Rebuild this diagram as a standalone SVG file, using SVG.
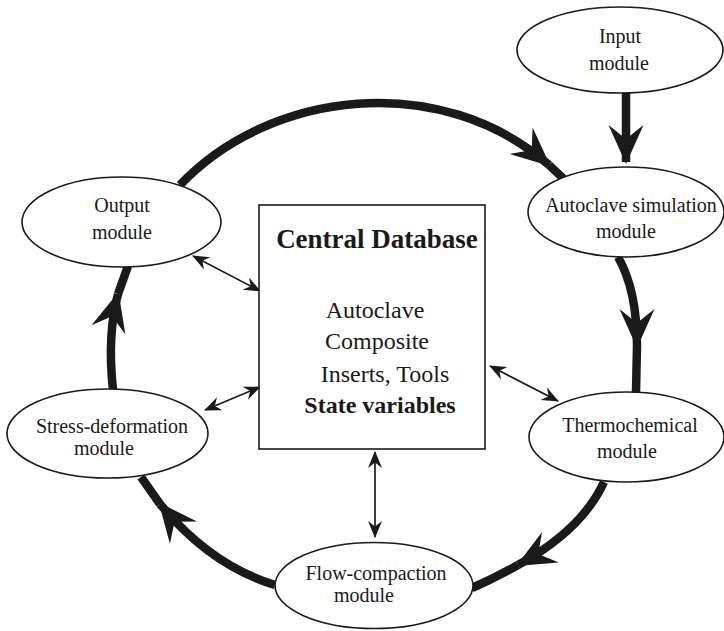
<svg xmlns="http://www.w3.org/2000/svg" width="724" height="631" viewBox="0 0 724 631">
<defs>
<style>
.node ellipse{fill:#fff;stroke:#1a1a1a;stroke-width:1.6}
.box{fill:#fff;stroke:#1a1a1a;stroke-width:1.6}
text{font-family:"Liberation Serif","Times New Roman",serif;fill:#1a1a1a;text-anchor:middle}
.lbl{font-size:20px}
.db{font-size:24px}
.hd{font-size:27px;font-weight:bold}
.b{font-weight:bold}
.thick{fill:none;stroke:#1a1a1a;stroke-width:8.5}
.thin{fill:none;stroke:#1a1a1a;stroke-width:1.7;marker-start:url(#sh);marker-end:url(#sh)}
</style>
<marker id="bh" markerUnits="userSpaceOnUse" viewBox="-40 -20 44 40" markerWidth="44" markerHeight="40" refX="0" refY="0" orient="auto">
<path d="M2,0 L-37,-17.5 L-23,0 L-37,17.5 Z" fill="#1a1a1a"/>
</marker>
<marker id="sh" markerUnits="userSpaceOnUse" viewBox="-18 -9 20 18" markerWidth="20" markerHeight="18" refX="0" refY="0" orient="auto-start-reverse">
<path d="M1,0 L-16,-7 L-10.5,0 L-16,7 Z" fill="#1a1a1a"/>
</marker>
</defs>
<rect width="724" height="631" fill="#fff"/>
<g id="connectors">
<path class="thick" d="M180,185 C270,90 440,70 549,165" marker-end="url(#bh)"/>
<path class="thick" d="M549,165 L566,181"/>
<path class="thick" d="M626,93 L626,162" marker-end="url(#bh)"/>
<path class="thick" d="M618,257 Q637,290 637,346" marker-end="url(#bh)"/>
<path class="thick" d="M637,346 L636,392"/>
<path class="thick" d="M604,482 Q582,530 518,565" marker-end="url(#bh)"/>
<path class="thick" d="M518,565 Q495,578 472,588"/>
<path class="thick" d="M275,585 Q210,565 160,504" marker-end="url(#bh)"/>
<path class="thick" d="M160,504 L141,477"/>
<path class="thick" d="M113,390 Q107,335 118,294" marker-end="url(#bh)"/>
<path class="thick" d="M118,294 L128,266"/>
<path class="thin" d="M193,256 L260,291"/>
<path class="thin" d="M205,410 L260,387"/>
<path class="thin" d="M490,366 L558,401"/>
<path class="thin" d="M375,452 L375,537"/>
</g>
<g id="input" class="node">
<ellipse cx="620" cy="50" rx="103" ry="43"/>
<text class="lbl" x="620" y="43">Input</text>
<text class="lbl" x="619" y="70">module</text>
</g>
<g id="autoclave" class="node">
<ellipse cx="626" cy="212" rx="98" ry="45"/>
<text class="lbl" x="631" y="212">Autoclave simulation</text>
<text class="lbl" x="626" y="238">module</text>
</g>
<g id="output" class="node">
<ellipse cx="121.5" cy="222" rx="99.5" ry="45"/>
<text class="lbl" x="122" y="212">Output</text>
<text class="lbl" x="122" y="239">module</text>
</g>
<g id="stress" class="node">
<ellipse cx="107.5" cy="433.5" rx="100.5" ry="44.5"/>
<text class="lbl" x="112" y="433">Stress-deformation</text>
<text class="lbl" x="104" y="455">module</text>
</g>
<g id="thermo" class="node">
<ellipse cx="626.5" cy="437" rx="97.5" ry="45"/>
<text class="lbl" x="630" y="432">Thermochemical</text>
<text class="lbl" x="627" y="458">module</text>
</g>
<g id="flow" class="node">
<ellipse cx="374" cy="585.5" rx="99" ry="43"/>
<text class="lbl" x="376" y="580">Flow-compaction</text>
<text class="lbl" x="364" y="602">module</text>
</g>
<g id="database">
<rect class="box" x="259" y="205" width="226" height="244"/>
<text class="hd" x="377" y="248">Central Database</text>
<text class="db" x="375" y="318">Autoclave</text>
<text class="db" x="377" y="349">Composite</text>
<text class="db" x="385" y="382">Inserts, Tools</text>
<text class="db b" x="380" y="413">State variables</text>
</g>
</svg>
